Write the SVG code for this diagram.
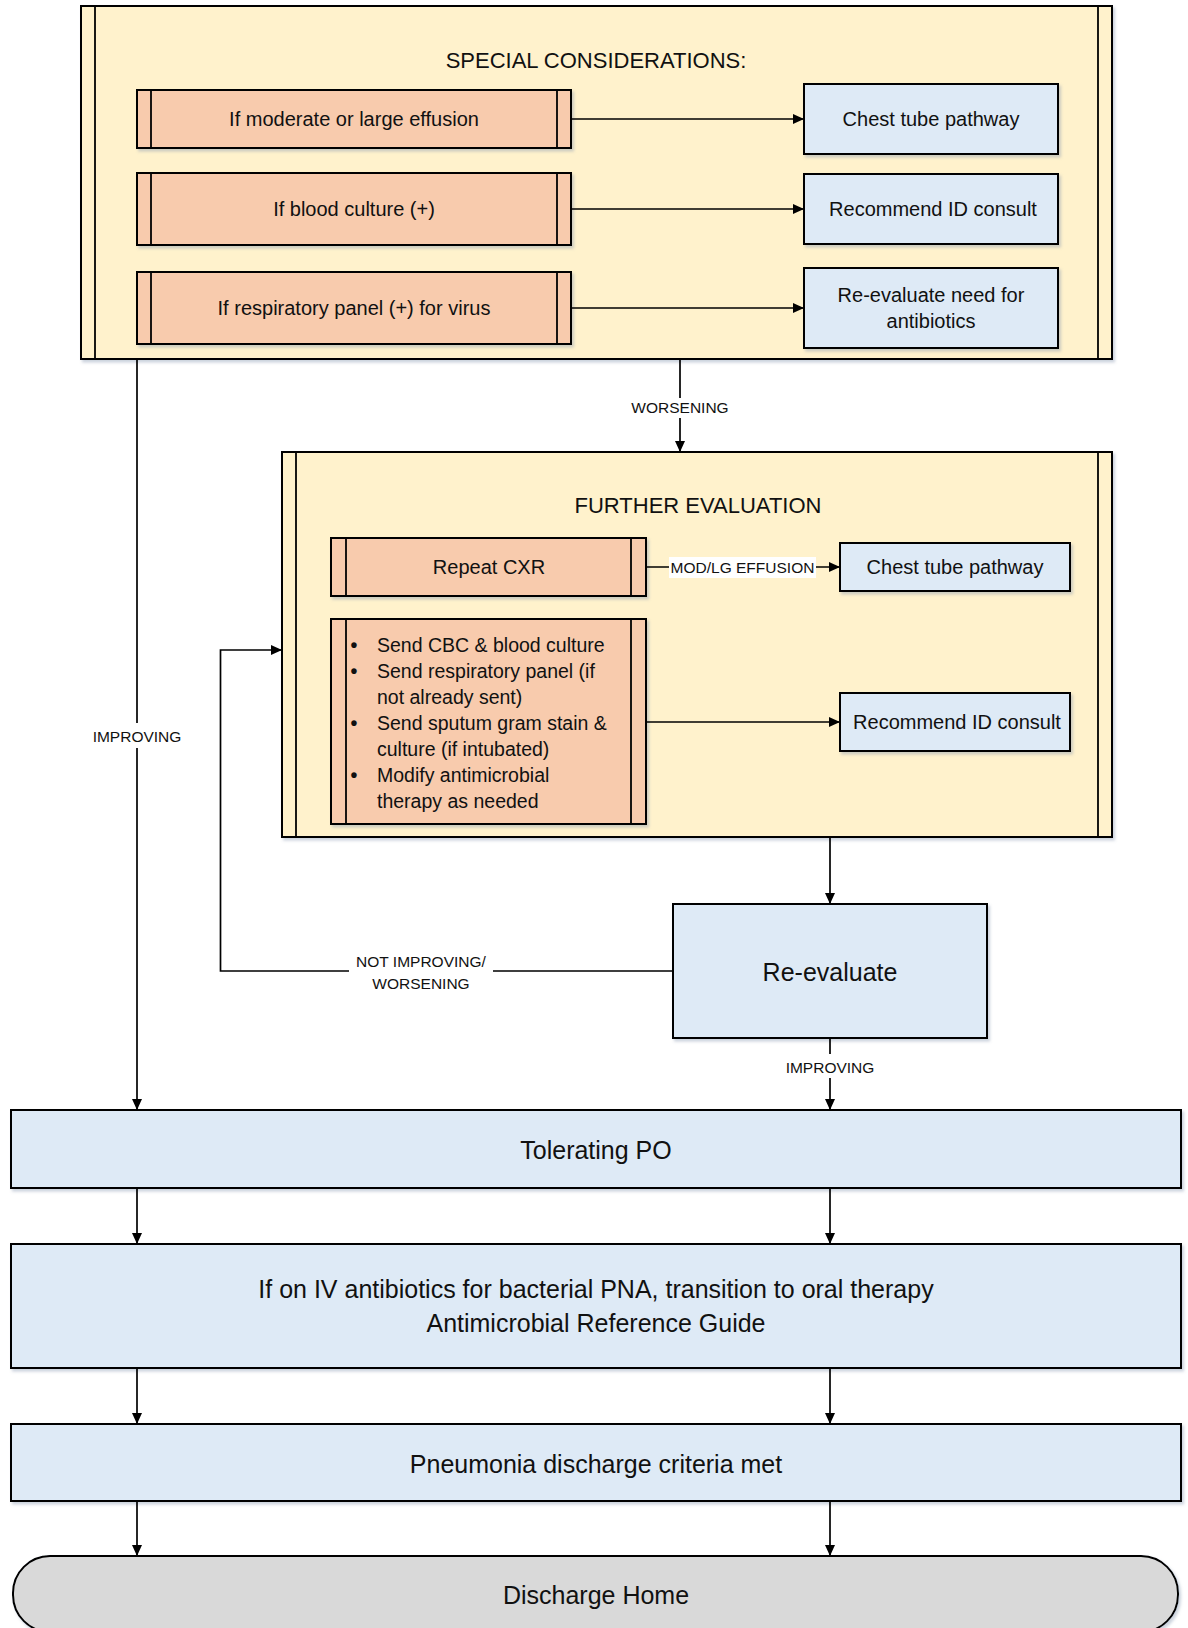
<svg xmlns="http://www.w3.org/2000/svg" width="1188" height="1628" viewBox="0 0 1188 1628">
<defs>
<filter id="sh" x="-5%" y="-5%" width="110%" height="120%">
<feDropShadow dx="2" dy="2.5" stdDeviation="1.5" flood-color="#8b9bb4" flood-opacity="0.45"/>
</filter>
<marker id="ah" markerUnits="userSpaceOnUse" markerWidth="12" markerHeight="11" refX="11" refY="5.5" orient="auto">
<path d="M0,0.5 L11,5.5 L0,10.5 z" fill="#000"/>
</marker>
</defs>
<style>
text{font-family:"Liberation Sans",Arial,sans-serif;fill:#111;}
.cont{fill:#FFF2CC;stroke:#000;stroke-width:2;}
.pink{fill:#F8CBAD;stroke:#000;stroke-width:2;}
.blue{fill:#DEEAF6;stroke:#000;stroke-width:2;}
.term{fill:#D9D9D9;stroke:#000;stroke-width:2;}
.band{stroke:#000;stroke-width:1.8;fill:none;}
.c{text-anchor:middle;}
.t20{font-size:20px;}
.t25{font-size:25px;}
.t22{font-size:22px;}
.lbl{font-size:15.5px;text-anchor:middle;}
.bul{font-size:19.5px;}
.dot{font-size:19.5px;font-weight:bold;text-anchor:middle;}
.conn{stroke:#000;stroke-width:1.7;fill:none;}
.bg{fill:#fff;}
</style>

<g id="special-considerations">
<rect class="cont" x="81" y="6" width="1031" height="353" filter="url(#sh)"/>
<line class="band" x1="95" y1="6" x2="95" y2="359"/>
<line class="band" x1="1098" y1="6" x2="1098" y2="359"/>
<text class="t22 c" x="596" y="68">SPECIAL CONSIDERATIONS:</text>
</g>

<g id="if-effusion">
<rect class="pink" x="137" y="90" width="434" height="58" filter="url(#sh)"/>
<line class="band" x1="151" y1="90" x2="151" y2="148"/>
<line class="band" x1="557" y1="90" x2="557" y2="148"/>
<text class="t20 c" x="354" y="126">If moderate or large effusion</text>
</g>
<g id="if-blood-culture">
<rect class="pink" x="137" y="173" width="434" height="72" filter="url(#sh)"/>
<line class="band" x1="151" y1="173" x2="151" y2="245"/>
<line class="band" x1="557" y1="173" x2="557" y2="245"/>
<text class="t20 c" x="354" y="216">If blood culture (+)</text>
</g>
<g id="if-resp-panel">
<rect class="pink" x="137" y="272" width="434" height="72" filter="url(#sh)"/>
<line class="band" x1="151" y1="272" x2="151" y2="344"/>
<line class="band" x1="557" y1="272" x2="557" y2="344"/>
<text class="t20 c" x="354" y="315">If respiratory panel (+) for virus</text>
</g>

<g id="chest-tube-1">
<rect class="blue" x="804" y="84" width="254" height="70" filter="url(#sh)"/>
<text class="t20 c" x="931" y="126">Chest tube pathway</text>
</g>
<g id="id-consult-1">
<rect class="blue" x="804" y="174" width="254" height="70" filter="url(#sh)"/>
<text class="t20 c" x="933" y="216">Recommend ID consult</text>
</g>
<g id="reevaluate-antibiotics">
<rect class="blue" x="804" y="268" width="254" height="80" filter="url(#sh)"/>
<text class="t20 c" x="931" y="302">Re-evaluate need for</text>
<text class="t20 c" x="931" y="328">antibiotics</text>
</g>

<g id="further-evaluation">
<rect class="cont" x="282" y="452" width="830" height="385" filter="url(#sh)"/>
<line class="band" x1="296" y1="452" x2="296" y2="837"/>
<line class="band" x1="1098" y1="452" x2="1098" y2="837"/>
<text class="t22 c" x="698" y="513">FURTHER EVALUATION</text>
</g>

<g id="repeat-cxr">
<rect class="pink" x="331" y="538" width="315" height="58" filter="url(#sh)"/>
<line class="band" x1="346" y1="538" x2="346" y2="596"/>
<line class="band" x1="631" y1="538" x2="631" y2="596"/>
<text class="t20 c" x="489" y="574">Repeat CXR</text>
</g>

<g id="send-tests">
<rect class="pink" x="331" y="619" width="315" height="205" filter="url(#sh)"/>
<line class="band" x1="346" y1="619" x2="346" y2="824"/>
<line class="band" x1="631" y1="619" x2="631" y2="824"/>
<text class="dot" x="354" y="652">•</text>
<text class="bul" x="377" y="652">Send CBC &amp; blood culture</text>
<text class="dot" x="354" y="678">•</text>
<text class="bul" x="377" y="678">Send respiratory panel (if</text>
<text class="bul" x="377" y="704">not already sent)</text>
<text class="dot" x="354" y="730">•</text>
<text class="bul" x="377" y="730">Send sputum gram stain &amp;</text>
<text class="bul" x="377" y="756">culture (if intubated)</text>
<text class="dot" x="354" y="782">•</text>
<text class="bul" x="377" y="782">Modify antimicrobial</text>
<text class="bul" x="377" y="808">therapy as needed</text>
</g>

<g id="chest-tube-2">
<rect class="blue" x="840" y="543" width="230" height="48" filter="url(#sh)"/>
<text class="t20 c" x="955" y="574">Chest tube pathway</text>
</g>
<g id="id-consult-2">
<rect class="blue" x="840" y="693" width="230" height="58" filter="url(#sh)"/>
<text class="t20 c" x="957" y="729">Recommend ID consult</text>
</g>

<g id="re-evaluate">
<rect class="blue" x="673" y="904" width="314" height="134" filter="url(#sh)"/>
<text class="t25 c" x="830" y="981">Re-evaluate</text>
</g>

<g id="tolerating-po">
<rect class="blue" x="11" y="1110" width="1170" height="78" filter="url(#sh)"/>
<text class="t25 c" x="596" y="1159">Tolerating PO</text>
</g>

<g id="transition-oral">
<rect class="blue" x="11" y="1244" width="1170" height="124" filter="url(#sh)"/>
<text class="t25 c" x="596" y="1298">If on IV antibiotics for bacterial PNA, transition to oral therapy</text>
<text class="t25 c" x="596" y="1332">Antimicrobial Reference Guide</text>
</g>

<g id="discharge-criteria">
<rect class="blue" x="11" y="1424" width="1170" height="77" filter="url(#sh)"/>
<text class="t25 c" x="596" y="1473">Pneumonia discharge criteria met</text>
</g>

<g id="discharge-home">
<rect class="term" x="13" y="1556" width="1165" height="76" rx="37" ry="37" filter="url(#sh)"/>
<text class="t25 c" x="596" y="1604">Discharge Home</text>
</g>

<g id="connectors">
<line class="conn" x1="571" y1="119" x2="804" y2="119" marker-end="url(#ah)"/>
<line class="conn" x1="571" y1="209" x2="804" y2="209" marker-end="url(#ah)"/>
<line class="conn" x1="571" y1="308" x2="804" y2="308" marker-end="url(#ah)"/>

<line class="conn" x1="680" y1="359" x2="680" y2="452" marker-end="url(#ah)"/>
<rect class="bg" x="630" y="398" width="100" height="20"/>
<text class="lbl" x="680" y="412.5">WORSENING</text>

<line class="conn" x1="137" y1="359" x2="137" y2="1110" marker-end="url(#ah)"/>
<rect class="bg" x="88" y="723" width="98" height="25"/>
<text class="lbl" x="137" y="741.5">IMPROVING</text>

<line class="conn" x1="646" y1="567" x2="840" y2="567" marker-end="url(#ah)"/>
<rect class="bg" x="669" y="557" width="147" height="21"/>
<text class="lbl" x="742.5" y="572.5">MOD/LG EFFUSION</text>

<line class="conn" x1="646" y1="722" x2="840" y2="722" marker-end="url(#ah)"/>

<line class="conn" x1="830" y1="837" x2="830" y2="904" marker-end="url(#ah)"/>

<polyline class="conn" points="673,971 220.5,971 220.5,650 282,650" marker-end="url(#ah)"/>
<rect class="bg" x="349" y="951" width="144" height="44"/>
<text class="lbl" x="421" y="966.5">NOT IMPROVING/</text>
<text class="lbl" x="421" y="988.5">WORSENING</text>

<line class="conn" x1="830" y1="1038" x2="830" y2="1110" marker-end="url(#ah)"/>
<rect class="bg" x="780" y="1054" width="100" height="24"/>
<text class="lbl" x="830" y="1072.5">IMPROVING</text>

<line class="conn" x1="137" y1="1188" x2="137" y2="1244" marker-end="url(#ah)"/>
<line class="conn" x1="830" y1="1188" x2="830" y2="1244" marker-end="url(#ah)"/>
<line class="conn" x1="137" y1="1368" x2="137" y2="1424" marker-end="url(#ah)"/>
<line class="conn" x1="830" y1="1368" x2="830" y2="1424" marker-end="url(#ah)"/>
<line class="conn" x1="137" y1="1501" x2="137" y2="1556" marker-end="url(#ah)"/>
<line class="conn" x1="830" y1="1501" x2="830" y2="1556" marker-end="url(#ah)"/>
</g>
</svg>
